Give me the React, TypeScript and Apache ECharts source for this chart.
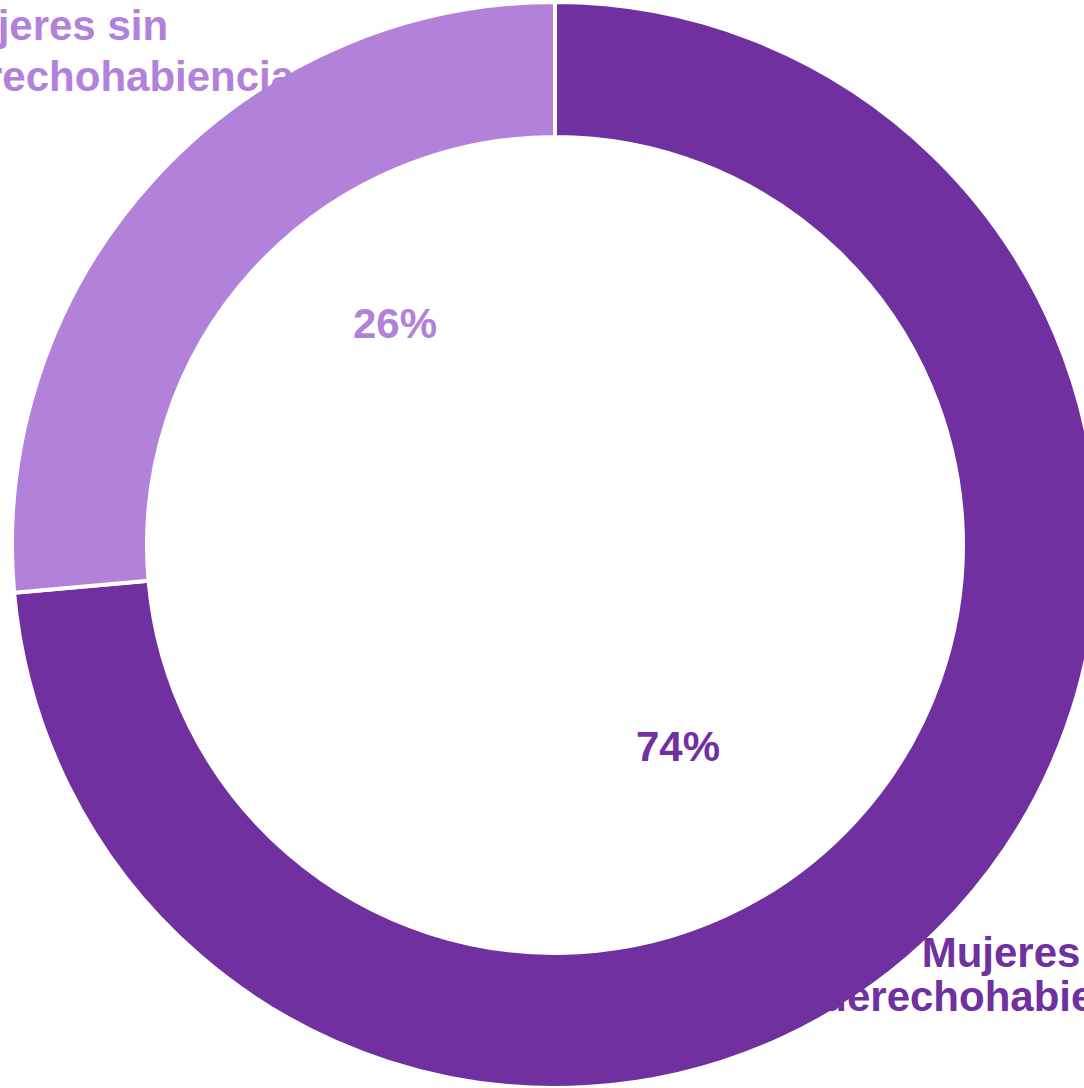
import React, { useEffect, useRef } from "react";
import * as echarts from "echarts";

const categories = ["Mujeres derechohabientes", "Mujeres sin derechohabiencia"];
const labelLines = [
  ["Mujeres", "derechohabientes"],
  ["Mujeres sin", "derechohabiencia"],
];
const values = [73.6, 26.4];
const colors = ["#7030A0", "#B281D9"];

const FONT = "bold 42px 'Liberation Sans', Arial, sans-serif";

export default function App() {
  const ref = useRef<HTMLDivElement>(null);
  useEffect(() => {
    document.body.style.margin = "0";
    const chart = echarts.init(ref.current!, undefined, { renderer: "svg" });
    const total = values.reduce((a, b) => a + b, 0);
    const pct = values.map((v) => Math.round((v / total) * 100) + "%");
    chart.setOption({
      animation: false,
      backgroundColor: "#ffffff",
      series: [
        {
          type: "pie",
          center: [555, 545],
          radius: [408, 543],
          startAngle: 90,
          clockwise: true,
          silent: true,
          label: { show: false },
          labelLine: { show: false },
          itemStyle: { borderColor: "#ffffff", borderWidth: 4 },
          data: categories.map((c, i) => ({
            name: c,
            value: values[i],
            itemStyle: { color: colors[i] },
          })),
        },
      ],
      graphic: [
        {
          type: "text",
          x: 678,
          y: 746,
          style: {
            text: pct[0],
            font: FONT,
            fill: colors[0],
            align: "center",
            verticalAlign: "middle",
          },
        },
        {
          type: "text",
          x: 395,
          y: 323,
          style: {
            text: pct[1],
            font: FONT,
            fill: colors[1],
            align: "center",
            verticalAlign: "middle",
          },
        },
        {
          type: "text",
          x: 1001,
          y: 930,
          z: 100,
          style: {
            text: labelLines[0].join("\n"),
            font: FONT,
            fill: colors[0],
            align: "center",
            verticalAlign: "top",
            lineHeight: 44,
          },
        },
        {
          type: "text",
          x: -63,
          y: 0,
          z: 100,
          style: {
            text: labelLines[1].join("\n"),
            font: FONT,
            fill: colors[1],
            align: "left",
            verticalAlign: "top",
            lineHeight: 51,
          },
        },
      ],
    });
    return () => chart.dispose();
  }, []);
  return <div ref={ref} style={{ width: 1084, height: 1088 }} />;
}
